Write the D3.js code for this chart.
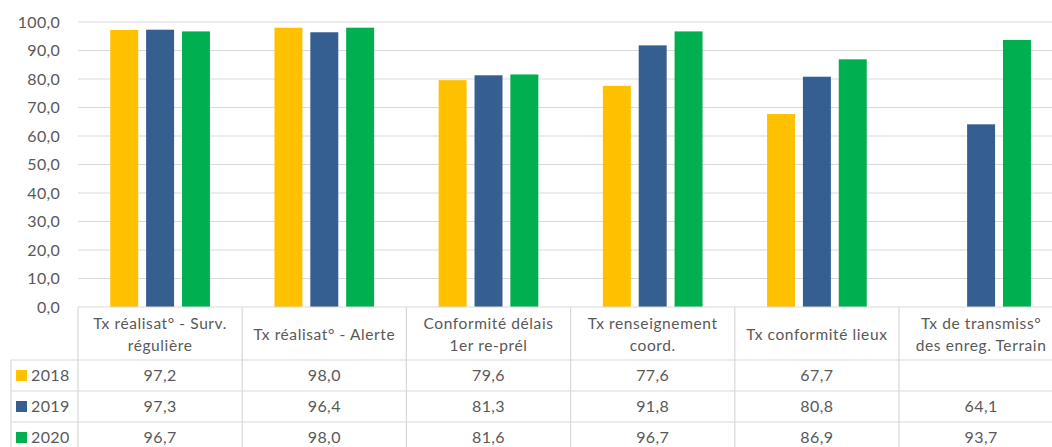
<!DOCTYPE html>
<html>
<head>
<meta charset="utf-8">
<script src="https://cdn.jsdelivr.net/npm/d3@7"></script>
<style>
  body { margin: 0; background: #fff; }
  svg { display: block; font-family: Lato, "Open Sans", sans-serif; }
</style>
</head>
<body>
<svg></svg>
<script>
const width = 1052;
const height = 447;

// Données
const categories = [
    "Tx réalisat° - Surv.|régulière",
    "Tx réalisat° - Alerte",
    "Conformité délais|1er re-prél",
    "Tx renseignement|coord.",
    "Tx conformité lieux",
    "Tx de transmiss°|des enreg. Terrain"
];
const years = ["2018", "2019", "2020"];
const values2018 = [97.2, 98.0, 79.6, 77.6, 67.7, null];
const values2019 = [97.3, 96.4, 81.3, 91.8, 80.8, 64.1];
const values2020 = [96.7, 98.0, 81.6, 96.7, 86.9, 93.7];
const yTicks = [0, 10, 20, 30, 40, 50, 60, 70, 80, 90, 100];
const colors = ["#FFC000", "#355E91", "#00B050"];

const series = [values2018, values2019, values2020];

const fr = d3.formatLocale({ decimal: ",", thousands: " ", grouping: [3], currency: ["", " €"] });
const fmt = fr.format(".1f");

const svg = d3.select("svg")
    .attr("width", width)
    .attr("height", height);

const left = 78;
const bandW = 164.2;

const x0 = d3.scaleBand()
    .domain(categories)
    .range([left, left + bandW * categories.length])
    .padding(0);

const x1 = d3.scaleBand()
    .domain(years)
    .range([0, x0.bandwidth()])
    .paddingInner(0.22)
    .paddingOuter(0.9);

const y = d3.scaleLinear()
    .domain([0, 100])
    .range([307, 22]);

const textColor = "#595959";
const lineColor = "#d9d9d9";

// Grille
svg.append("g")
  .selectAll("line")
  .data(yTicks.filter(d => d > 0))
  .join("line")
    .attr("x1", left)
    .attr("x2", width)
    .attr("y1", d => y(d))
    .attr("y2", d => y(d))
    .attr("stroke", lineColor)
    .attr("stroke-width", 1.2);

// Axe Y
const yAxis = svg.append("g")
    .attr("transform", `translate(${left - 18},0)`)
    .call(d3.axisLeft(y).tickValues(yTicks).tickFormat(fmt).tickSize(0).tickPadding(0));
yAxis.select(".domain").remove();
yAxis.selectAll("text")
    .attr("fill", textColor)
    .style("font-size", "16px")
    .style("letter-spacing", "0.3px")
    .style("font-family", "Lato, 'Open Sans', sans-serif");

// Barres
svg.append("g")
  .selectAll("g")
  .data(series)
  .join("g")
    .attr("fill", (d, i) => colors[i])
  .selectAll("rect")
  .data((vals, i) => vals.map((v, j) => ({ cat: categories[j], year: years[i], v })).filter(d => d.v != null))
  .join("rect")
    .attr("x", d => x0(d.cat) + x1(d.year))
    .attr("width", x1.bandwidth())
    .attr("y", d => y(d.v))
    .attr("height", d => y(0) - y(d.v));

// Tableau de données
const headTop = y(0);
const headBottom = 360;
const rowH = 31;
const legLeft = 11;
const tableRight = x0.range()[1];

const table = svg.append("g")
    .attr("stroke", lineColor)
    .attr("stroke-width", 1.2);

// lignes horizontales
table.append("line")
    .attr("x1", left).attr("x2", tableRight)
    .attr("y1", headTop).attr("y2", headTop);
[0, 1, 2, 3].forEach(i => {
    table.append("line")
        .attr("x1", legLeft).attr("x2", tableRight)
        .attr("y1", headBottom + i * rowH).attr("y2", headBottom + i * rowH);
});

// lignes verticales
table.selectAll("line.v")
  .data(categories)
  .join("line")
    .attr("class", "v")
    .attr("x1", d => x0(d))
    .attr("x2", d => x0(d))
    .attr("y1", headTop)
    .attr("y2", height);
table.append("line")
    .attr("x1", legLeft).attr("x2", legLeft)
    .attr("y1", headBottom).attr("y2", height);

// En-têtes
const head = svg.append("g")
    .attr("fill", textColor)
    .style("font-size", "15.5px")
    .style("letter-spacing", "0.6px")
    .attr("text-anchor", "middle");

head.selectAll("text")
  .data(categories)
  .join("text")
    .attr("x", d => x0(d) + x0.bandwidth() / 2)
    .attr("y", d => d.includes("|") ? 329 : 340)
    .each(function(d) {
        const parts = d.split("|");
        d3.select(this).selectAll("tspan")
          .data(parts)
          .join("tspan")
            .attr("x", x0(d) + x0.bandwidth() / 2)
            .attr("dy", (p, i) => i === 0 ? 0 : 22)
            .text(p => p);
    });

// Lignes de valeurs
const rows = svg.append("g")
  .selectAll("g")
  .data(series)
  .join("g")
    .attr("transform", (d, i) => `translate(0,${headBottom + i * rowH + rowH / 2})`);

rows.append("rect")
    .attr("x", 16)
    .attr("y", -5.5)
    .attr("width", 11)
    .attr("height", 11)
    .attr("fill", (d, i) => colors[i]);

rows.append("text")
    .attr("x", 31)
    .attr("dy", "0.36em")
    .attr("fill", textColor)
    .style("font-size", "16px")
    .style("letter-spacing", "0.4px")
    .text((d, i) => years[i]);

rows.selectAll("text.val")
  .data(vals => vals.map((v, j) => ({ cat: categories[j], v })))
  .join("text")
    .attr("class", "val")
    .attr("x", d => x0(d.cat) + x0.bandwidth() / 2)
    .attr("dy", "0.36em")
    .attr("text-anchor", "middle")
    .attr("fill", textColor)
    .style("font-size", "16px")
    .style("letter-spacing", "0.4px")
    .text(d => d.v == null ? "" : fmt(d.v));
</script>
</body>
</html>
